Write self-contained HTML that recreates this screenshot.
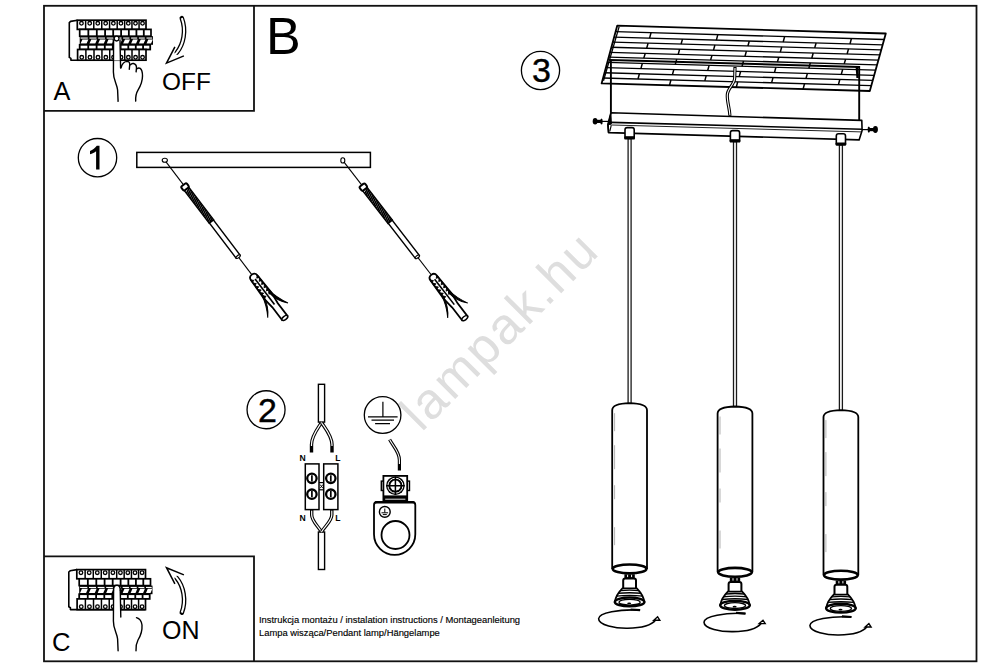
<!DOCTYPE html>
<html><head><meta charset="utf-8">
<style>
html,body{margin:0;padding:0;background:#fff;}
body{width:1000px;height:667px;overflow:hidden;}
svg{display:block;}
text{font-family:"Liberation Sans",sans-serif;}
</style></head><body>
<svg width="1000" height="667" viewBox="0 0 1000 667">
<rect x="0" y="0" width="1000" height="667" fill="#fff"/>

<text x="0" y="0" transform="translate(421.5,432.8) rotate(-45)" font-size="51" letter-spacing="2.2" fill="#dedede">lampak.hu</text>
<g fill="none" stroke="#111" stroke-width="1.8">
<rect x="44" y="5.8" width="932.5" height="655.5"/>
<polyline points="44,110.8 254,110.8 254,5.8"/>
<polyline points="44,556.45 254,556.45 254,661.3"/>
</g>
<text x="266" y="54" font-size="52">B</text>
<text x="53.4" y="99.9" font-size="25.3">A</text>
<text x="162.1" y="89.5" font-size="24.4">OFF</text>
<text x="52" y="650.5" font-size="25.6">C</text>
<text x="162" y="638.9" font-size="25">ON</text>
<g fill="none" stroke="#000" stroke-width="1.3">
<circle cx="97.5" cy="157.7" r="19.2"/>
<circle cx="266.05" cy="409.75" r="19"/>
<circle cx="540.5" cy="70.5" r="19.1"/>
</g>
<path d="M99.5,145.8 L99.5,169.5 L96.1,169.5 L96.1,151.2 C94.5,152.6 92.3,153.7 90,154.2 L90,151 C92.8,150 95.2,148 96.8,145.8 Z" fill="#000"/>
<text x="258" y="421.7" font-size="34" stroke="#000" stroke-width="0.4">2</text>
<text x="532" y="82" font-size="34" stroke="#000" stroke-width="0.4">3</text>
<text x="259" y="622.5" font-size="9.4" stroke="#000" stroke-width="0.15">Instrukcja montażu / instalation instructions / Montageanleitung</text>
<text x="259" y="635.8" font-size="9.4" stroke="#000" stroke-width="0.15">Lampa wisząca/Pendant lamp/Hängelampe</text>
<g transform="translate(0,0)" fill="none" stroke="#000">
<path d="M77.5,20.2 L70.6,21.4 L69.3,22.6 L69.3,57.4 L70.9,58.4 L70.9,60.2 L146,60.2" stroke-width="1.6" stroke-linejoin="round"/>
<rect x="77.3" y="20.2" width="68.7" height="9.2" stroke-width="1.7" fill="#fff"/>
<line x1="85.63" y1="20.2" x2="85.63" y2="29.4" stroke-width="1.5"/>
<line x1="93.78" y1="20.2" x2="93.78" y2="29.4" stroke-width="1.5"/>
<line x1="101.76" y1="20.2" x2="101.76" y2="29.4" stroke-width="1.5"/>
<line x1="109.57" y1="20.2" x2="109.57" y2="29.4" stroke-width="1.5"/>
<line x1="117.20" y1="20.2" x2="117.20" y2="29.4" stroke-width="1.5"/>
<line x1="124.66" y1="20.2" x2="124.66" y2="29.4" stroke-width="1.5"/>
<line x1="131.95" y1="20.2" x2="131.95" y2="29.4" stroke-width="1.5"/>
<line x1="139.06" y1="20.2" x2="139.06" y2="29.4" stroke-width="1.5"/>
<circle cx="81.46" cy="23.3" r="1.8" stroke-width="1.3"/>
<circle cx="89.70" cy="23.3" r="1.8" stroke-width="1.3"/>
<circle cx="97.77" cy="23.3" r="1.8" stroke-width="1.3"/>
<circle cx="105.66" cy="23.3" r="1.8" stroke-width="1.3"/>
<circle cx="113.38" cy="23.3" r="1.8" stroke-width="1.3"/>
<circle cx="120.93" cy="23.3" r="1.8" stroke-width="1.3"/>
<circle cx="128.30" cy="23.3" r="1.8" stroke-width="1.3"/>
<circle cx="135.50" cy="23.3" r="1.8" stroke-width="1.3"/>
<circle cx="142.53" cy="23.3" r="1.8" stroke-width="1.3"/>
<rect x="79.7" y="29.4" width="71.3" height="6.800000000000004" stroke-width="1.7" fill="#fff"/>
<line x1="88.34" y1="29.4" x2="88.34" y2="36.2" stroke-width="1.8"/>
<line x1="96.80" y1="29.4" x2="96.80" y2="36.2" stroke-width="1.8"/>
<line x1="105.09" y1="29.4" x2="105.09" y2="36.2" stroke-width="1.8"/>
<line x1="113.19" y1="29.4" x2="113.19" y2="36.2" stroke-width="1.8"/>
<line x1="121.11" y1="29.4" x2="121.11" y2="36.2" stroke-width="1.8"/>
<line x1="128.85" y1="29.4" x2="128.85" y2="36.2" stroke-width="1.8"/>
<line x1="136.42" y1="29.4" x2="136.42" y2="36.2" stroke-width="1.8"/>
<line x1="143.80" y1="29.4" x2="143.80" y2="36.2" stroke-width="1.8"/>
<rect x="79.7" y="36.2" width="73.3" height="8.599999999999994" stroke-width="0" fill="#000"/>
<rect x="80.60" y="37.5" width="7.18" height="1.1" fill="#fff" stroke="none"/>
<path d="M82.40,39.400000000000006 L88.38,39.400000000000006 L86.58,43.5 L80.60,43.5 Z" fill="#fff" stroke="none"/>
<rect x="89.48" y="37.5" width="7.00" height="1.1" fill="#fff" stroke="none"/>
<path d="M91.28,39.400000000000006 L97.08,39.400000000000006 L95.28,43.5 L89.48,43.5 Z" fill="#fff" stroke="none"/>
<rect x="98.18" y="37.5" width="6.81" height="1.1" fill="#fff" stroke="none"/>
<path d="M99.98,39.400000000000006 L105.60,39.400000000000006 L103.80,43.5 L98.18,43.5 Z" fill="#fff" stroke="none"/>
<rect x="106.70" y="37.5" width="6.63" height="1.1" fill="#fff" stroke="none"/>
<path d="M108.50,39.400000000000006 L113.93,39.400000000000006 L112.13,43.5 L106.70,43.5 Z" fill="#fff" stroke="none"/>
<rect x="115.03" y="37.5" width="6.44" height="1.1" fill="#fff" stroke="none"/>
<path d="M116.83,39.400000000000006 L122.07,39.400000000000006 L120.27,43.5 L115.03,43.5 Z" fill="#fff" stroke="none"/>
<rect x="123.17" y="37.5" width="6.26" height="1.1" fill="#fff" stroke="none"/>
<path d="M124.97,39.400000000000006 L130.03,39.400000000000006 L128.23,43.5 L123.17,43.5 Z" fill="#fff" stroke="none"/>
<rect x="131.13" y="37.5" width="6.07" height="1.1" fill="#fff" stroke="none"/>
<path d="M132.93,39.400000000000006 L137.81,39.400000000000006 L136.01,43.5 L131.13,43.5 Z" fill="#fff" stroke="none"/>
<rect x="138.91" y="37.5" width="5.89" height="1.1" fill="#fff" stroke="none"/>
<path d="M140.71,39.400000000000006 L145.40,39.400000000000006 L143.60,43.5 L138.91,43.5 Z" fill="#fff" stroke="none"/>
<rect x="146.50" y="37.5" width="5.70" height="1.1" fill="#fff" stroke="none"/>
<path d="M148.30,39.400000000000006 L152.80,39.400000000000006 L151.00,43.5 L146.50,43.5 Z" fill="#fff" stroke="none"/>
<rect x="79.7" y="44.8" width="70.49999999999999" height="4.700000000000003" stroke-width="1.8" fill="#fff"/>
<line x1="88.25" y1="44.8" x2="88.25" y2="49.5" stroke-width="1.8"/>
<line x1="96.61" y1="44.8" x2="96.61" y2="49.5" stroke-width="1.8"/>
<line x1="104.80" y1="44.8" x2="104.80" y2="49.5" stroke-width="1.8"/>
<line x1="112.81" y1="44.8" x2="112.81" y2="49.5" stroke-width="1.8"/>
<line x1="120.65" y1="44.8" x2="120.65" y2="49.5" stroke-width="1.8"/>
<line x1="128.30" y1="44.8" x2="128.30" y2="49.5" stroke-width="1.8"/>
<line x1="135.78" y1="44.8" x2="135.78" y2="49.5" stroke-width="1.8"/>
<line x1="143.08" y1="44.8" x2="143.08" y2="49.5" stroke-width="1.8"/>
<rect x="77.6" y="49.5" width="68.4" height="10.700000000000003" stroke-width="1.7" fill="#fff"/>
<line x1="85.89" y1="49.5" x2="85.89" y2="60.2" stroke-width="1.5"/>
<line x1="94.01" y1="49.5" x2="94.01" y2="60.2" stroke-width="1.5"/>
<line x1="101.95" y1="49.5" x2="101.95" y2="60.2" stroke-width="1.5"/>
<line x1="109.73" y1="49.5" x2="109.73" y2="60.2" stroke-width="1.5"/>
<line x1="117.33" y1="49.5" x2="117.33" y2="60.2" stroke-width="1.5"/>
<line x1="124.75" y1="49.5" x2="124.75" y2="60.2" stroke-width="1.5"/>
<line x1="132.01" y1="49.5" x2="132.01" y2="60.2" stroke-width="1.5"/>
<line x1="139.09" y1="49.5" x2="139.09" y2="60.2" stroke-width="1.5"/>
<circle cx="81.75" cy="57.3" r="1.8" stroke-width="1.3"/>
<circle cx="89.95" cy="57.3" r="1.8" stroke-width="1.3"/>
<circle cx="97.98" cy="57.3" r="1.8" stroke-width="1.3"/>
<circle cx="105.84" cy="57.3" r="1.8" stroke-width="1.3"/>
<circle cx="113.53" cy="57.3" r="1.8" stroke-width="1.3"/>
<circle cx="121.04" cy="57.3" r="1.8" stroke-width="1.3"/>
<circle cx="128.38" cy="57.3" r="1.8" stroke-width="1.3"/>
<circle cx="135.55" cy="57.3" r="1.8" stroke-width="1.3"/>
<circle cx="142.55" cy="57.3" r="1.8" stroke-width="1.3"/>
</g>
<g fill="none" stroke="#000" stroke-width="1.4" stroke-linecap="round">
<path d="M113.4,39.5 L113.4,47" />
<rect x="113.6" y="38.5" width="6.6" height="22" fill="#fff" stroke="none"/>
<path d="M113.6,40 L113.4,72 C113.2,80 117,84 117.6,90 L118.1,101.4"/>
<path d="M120,40.5 L120.6,68.1"/>
<path d="M121.1,67.7 C122,64 124,61.4 127.5,61.4 C129.5,61.6 130,63.5 129.6,66 L129.3,69.2"/>
<path d="M130.5,64.7 C131.5,63.4 132.5,63.3 133.5,63.5 C135.5,64 136.6,65.5 136.5,68 L136.1,71.9"/>
<path d="M137.2,68.6 C138.2,67.8 139.3,67.8 140.2,68.4 C141.8,69.6 142.5,72 142.5,76 C142.5,82 140.5,86 138,90.2 C136,93.5 135.4,96 135.7,101.1"/>
<circle cx="116.6" cy="38.6" r="2.4" fill="#fff" stroke-width="1.3"/>
</g>
<g fill="none" stroke="#000" stroke-linecap="round">
<path d="M176.8,52.6 C183.5,44.5 186.5,30.5 181.8,18.2" stroke-width="4.6"/>
<path d="M174.9,54.9 L176.8,52.6 C183.5,44.5 186.5,30.5 181.8,18.2" stroke-width="2" stroke="#fff" stroke-linecap="butt"/>
<polyline points="183.9,55.9 166.5,63.1 174.9,46.9" stroke-width="1.5" stroke-linecap="butt" stroke-linejoin="miter"/>
</g>
<g transform="translate(-0.5,549.4)" fill="none" stroke="#000">
<path d="M77.5,20.2 L70.6,21.4 L69.3,22.6 L69.3,57.4 L70.9,58.4 L70.9,60.2 L146,60.2" stroke-width="1.6" stroke-linejoin="round"/>
<rect x="77.3" y="20.2" width="68.7" height="9.2" stroke-width="1.7" fill="#fff"/>
<line x1="85.63" y1="20.2" x2="85.63" y2="29.4" stroke-width="1.5"/>
<line x1="93.78" y1="20.2" x2="93.78" y2="29.4" stroke-width="1.5"/>
<line x1="101.76" y1="20.2" x2="101.76" y2="29.4" stroke-width="1.5"/>
<line x1="109.57" y1="20.2" x2="109.57" y2="29.4" stroke-width="1.5"/>
<line x1="117.20" y1="20.2" x2="117.20" y2="29.4" stroke-width="1.5"/>
<line x1="124.66" y1="20.2" x2="124.66" y2="29.4" stroke-width="1.5"/>
<line x1="131.95" y1="20.2" x2="131.95" y2="29.4" stroke-width="1.5"/>
<line x1="139.06" y1="20.2" x2="139.06" y2="29.4" stroke-width="1.5"/>
<circle cx="81.46" cy="23.3" r="1.8" stroke-width="1.3"/>
<circle cx="89.70" cy="23.3" r="1.8" stroke-width="1.3"/>
<circle cx="97.77" cy="23.3" r="1.8" stroke-width="1.3"/>
<circle cx="105.66" cy="23.3" r="1.8" stroke-width="1.3"/>
<circle cx="113.38" cy="23.3" r="1.8" stroke-width="1.3"/>
<circle cx="120.93" cy="23.3" r="1.8" stroke-width="1.3"/>
<circle cx="128.30" cy="23.3" r="1.8" stroke-width="1.3"/>
<circle cx="135.50" cy="23.3" r="1.8" stroke-width="1.3"/>
<circle cx="142.53" cy="23.3" r="1.8" stroke-width="1.3"/>
<rect x="79.7" y="29.4" width="71.3" height="6.800000000000004" stroke-width="1.7" fill="#fff"/>
<line x1="88.34" y1="29.4" x2="88.34" y2="36.2" stroke-width="1.8"/>
<line x1="96.80" y1="29.4" x2="96.80" y2="36.2" stroke-width="1.8"/>
<line x1="105.09" y1="29.4" x2="105.09" y2="36.2" stroke-width="1.8"/>
<line x1="113.19" y1="29.4" x2="113.19" y2="36.2" stroke-width="1.8"/>
<line x1="121.11" y1="29.4" x2="121.11" y2="36.2" stroke-width="1.8"/>
<line x1="128.85" y1="29.4" x2="128.85" y2="36.2" stroke-width="1.8"/>
<line x1="136.42" y1="29.4" x2="136.42" y2="36.2" stroke-width="1.8"/>
<line x1="143.80" y1="29.4" x2="143.80" y2="36.2" stroke-width="1.8"/>
<rect x="79.7" y="36.2" width="73.3" height="8.599999999999994" stroke-width="0" fill="#000"/>
<rect x="80.60" y="37.5" width="7.18" height="1.1" fill="#fff" stroke="none"/>
<path d="M82.40,39.400000000000006 L88.38,39.400000000000006 L86.58,43.5 L80.60,43.5 Z" fill="#fff" stroke="none"/>
<rect x="89.48" y="37.5" width="7.00" height="1.1" fill="#fff" stroke="none"/>
<path d="M91.28,39.400000000000006 L97.08,39.400000000000006 L95.28,43.5 L89.48,43.5 Z" fill="#fff" stroke="none"/>
<rect x="98.18" y="37.5" width="6.81" height="1.1" fill="#fff" stroke="none"/>
<path d="M99.98,39.400000000000006 L105.60,39.400000000000006 L103.80,43.5 L98.18,43.5 Z" fill="#fff" stroke="none"/>
<rect x="106.70" y="37.5" width="6.63" height="1.1" fill="#fff" stroke="none"/>
<path d="M108.50,39.400000000000006 L113.93,39.400000000000006 L112.13,43.5 L106.70,43.5 Z" fill="#fff" stroke="none"/>
<rect x="115.03" y="37.5" width="6.44" height="1.1" fill="#fff" stroke="none"/>
<path d="M116.83,39.400000000000006 L122.07,39.400000000000006 L120.27,43.5 L115.03,43.5 Z" fill="#fff" stroke="none"/>
<rect x="123.17" y="37.5" width="6.26" height="1.1" fill="#fff" stroke="none"/>
<path d="M124.97,39.400000000000006 L130.03,39.400000000000006 L128.23,43.5 L123.17,43.5 Z" fill="#fff" stroke="none"/>
<rect x="131.13" y="37.5" width="6.07" height="1.1" fill="#fff" stroke="none"/>
<path d="M132.93,39.400000000000006 L137.81,39.400000000000006 L136.01,43.5 L131.13,43.5 Z" fill="#fff" stroke="none"/>
<rect x="138.91" y="37.5" width="5.89" height="1.1" fill="#fff" stroke="none"/>
<path d="M140.71,39.400000000000006 L145.40,39.400000000000006 L143.60,43.5 L138.91,43.5 Z" fill="#fff" stroke="none"/>
<rect x="146.50" y="37.5" width="5.70" height="1.1" fill="#fff" stroke="none"/>
<path d="M148.30,39.400000000000006 L152.80,39.400000000000006 L151.00,43.5 L146.50,43.5 Z" fill="#fff" stroke="none"/>
<rect x="79.7" y="44.8" width="70.49999999999999" height="4.700000000000003" stroke-width="1.8" fill="#fff"/>
<line x1="88.25" y1="44.8" x2="88.25" y2="49.5" stroke-width="1.8"/>
<line x1="96.61" y1="44.8" x2="96.61" y2="49.5" stroke-width="1.8"/>
<line x1="104.80" y1="44.8" x2="104.80" y2="49.5" stroke-width="1.8"/>
<line x1="112.81" y1="44.8" x2="112.81" y2="49.5" stroke-width="1.8"/>
<line x1="120.65" y1="44.8" x2="120.65" y2="49.5" stroke-width="1.8"/>
<line x1="128.30" y1="44.8" x2="128.30" y2="49.5" stroke-width="1.8"/>
<line x1="135.78" y1="44.8" x2="135.78" y2="49.5" stroke-width="1.8"/>
<line x1="143.08" y1="44.8" x2="143.08" y2="49.5" stroke-width="1.8"/>
<rect x="77.6" y="49.5" width="68.4" height="10.700000000000003" stroke-width="1.7" fill="#fff"/>
<line x1="85.89" y1="49.5" x2="85.89" y2="60.2" stroke-width="1.5"/>
<line x1="94.01" y1="49.5" x2="94.01" y2="60.2" stroke-width="1.5"/>
<line x1="101.95" y1="49.5" x2="101.95" y2="60.2" stroke-width="1.5"/>
<line x1="109.73" y1="49.5" x2="109.73" y2="60.2" stroke-width="1.5"/>
<line x1="117.33" y1="49.5" x2="117.33" y2="60.2" stroke-width="1.5"/>
<line x1="124.75" y1="49.5" x2="124.75" y2="60.2" stroke-width="1.5"/>
<line x1="132.01" y1="49.5" x2="132.01" y2="60.2" stroke-width="1.5"/>
<line x1="139.09" y1="49.5" x2="139.09" y2="60.2" stroke-width="1.5"/>
<circle cx="81.75" cy="57.3" r="1.8" stroke-width="1.3"/>
<circle cx="89.95" cy="57.3" r="1.8" stroke-width="1.3"/>
<circle cx="97.98" cy="57.3" r="1.8" stroke-width="1.3"/>
<circle cx="105.84" cy="57.3" r="1.8" stroke-width="1.3"/>
<circle cx="113.53" cy="57.3" r="1.8" stroke-width="1.3"/>
<circle cx="121.04" cy="57.3" r="1.8" stroke-width="1.3"/>
<circle cx="128.38" cy="57.3" r="1.8" stroke-width="1.3"/>
<circle cx="135.55" cy="57.3" r="1.8" stroke-width="1.3"/>
<circle cx="142.55" cy="57.3" r="1.8" stroke-width="1.3"/>
</g>
<g fill="none" stroke="#000" stroke-width="1.4" stroke-linecap="round">
<rect x="113.6" y="588" width="6.6" height="24" fill="#fff" stroke="none"/>
<path d="M113.6,589 L113.4,621 C113.2,629 117,633 117.6,639 L118.1,650.8"/>
<path d="M120.2,589 L120.8,617"/>
<path d="M113.6,590 C113.6,586.5 115,585.3 116.9,585.3 C118.8,585.3 120.2,586.5 120.2,590" fill="#fff"/>
<path d="M136.5,617.6 C139.5,618.5 141.5,621 142,625 C142.4,631 140.5,636 138,640 C136.2,643.5 135.6,646 136,650.8"/>
</g>
<g fill="none" stroke="#000" stroke-linecap="round">
<path d="M176.8,578.2 C183.5,586.3 186.5,600.3 181.8,612.6" stroke-width="4.6"/>
<path d="M174.9,575.9 L176.8,578.2 C183.5,586.3 186.5,600.3 181.8,612.6" stroke-width="2" stroke="#fff" stroke-linecap="butt"/>
<polyline points="183.9,574.9 166.5,567.7 174.9,583.9" stroke-width="1.5" stroke-linecap="butt" stroke-linejoin="miter"/>
</g>
<rect x="136.8" y="152.4" width="233.6" height="15" fill="none" stroke="#000" stroke-width="1.5"/>
<ellipse cx="164.8" cy="160.3" rx="2.6" ry="2" fill="none" stroke="#000" stroke-width="1.1"/>
<ellipse cx="342.8" cy="160.4" rx="2" ry="2.6" fill="none" stroke="#000" stroke-width="1.1"/>
<g transform="translate(164.8,160.3) rotate(52.73) scale(1.0007,1)" fill="none" stroke="#000">
<line x1="2" y1="0" x2="146" y2="0" stroke-width="1.1"/>
<rect x="35" y="-2.8" width="42" height="5.6" fill="#fff" stroke-width="1.4"/>
<path d="M37.0,-2.6 L39.2,2.6 M39.1,-2.6 L41.3,2.6 M41.2,-2.6 L43.4,2.6 M43.3,-2.6 L45.5,2.6 M45.4,-2.6 L47.6,2.6 M47.5,-2.6 L49.7,2.6 M49.6,-2.6 L51.8,2.6 M51.7,-2.6 L53.9,2.6 M53.8,-2.6 L56.0,2.6 M55.9,-2.6 L58.1,2.6 M58.0,-2.6 L60.2,2.6 M60.1,-2.6 L62.3,2.6 M62.2,-2.6 L64.4,2.6 M64.3,-2.6 L66.5,2.6 M66.4,-2.6 L68.6,2.6 M68.5,-2.6 L70.7,2.6 M70.6,-2.6 L72.8,2.6 M72.7,-2.6 L74.9,2.6 M74.8,-2.6 L77.0,2.6 M76.9,-2.6 L79.1,2.6" stroke-width="1.7"/>
<rect x="30.8" y="-3.4" width="5.2" height="6.8" rx="1.5" fill="#fff" stroke-width="2"/>
<rect x="77" y="-2.5" width="44" height="5" fill="#fff" stroke-width="1.4"/>
<ellipse cx="121" cy="0" rx="1.2" ry="2.5" fill="#fff" stroke-width="1.2"/>
<path d="M147.5,-4 Q143.6,-4 143.6,0 Q143.6,4 147.5,4 L170,4.8 L182,3.4 L198,3.4 L198,-3.4 L182,-3.4 L170,-4.8 Z" fill="#fff" stroke-width="1.8"/>
<path d="M147.0,-4.2 L150.2,-4.4 L149.4,-1.8 Z M147.0,4.2 L150.2,4.4 L149.4,1.8 Z M151.0,-4.2 L154.2,-4.4 L153.4,-1.8 Z M151.0,4.2 L154.2,4.4 L153.4,1.8 Z M155.0,-4.2 L158.2,-4.4 L157.4,-1.8 Z M155.0,4.2 L158.2,4.4 L157.4,1.8 Z M159.0,-4.2 L162.2,-4.4 L161.4,-1.8 Z M159.0,4.2 L162.2,4.4 L161.4,1.8 Z M163.0,-4.2 L166.2,-4.4 L165.4,-1.8 Z M163.0,4.2 L166.2,4.4 L165.4,1.8 Z M167.0,-4.2 L170.2,-4.4 L169.4,-1.8 Z M167.0,4.2 L170.2,4.4 L169.4,1.8 Z" fill="#000" stroke-width="0.8"/>
<line x1="149" y1="0" x2="181" y2="0" stroke-width="1.6"/>
<path d="M166,-4.4 C174,-5.2 182,-8.5 188,-11.6 C183,-7 176,-3.6 168,-2.8 Z" fill="#000" stroke-width="1"/>
<path d="M166,4.4 C174,5.8 182,9.8 187.5,13.4 C182.5,8.6 176,5.2 168,3.4 Z" fill="#000" stroke-width="1"/>
<ellipse cx="198" cy="0" rx="1.8" ry="3.4" fill="#fff" stroke-width="1.5"/>
</g>
<g transform="translate(342.8,160.5) rotate(52.27) scale(1.0068,1)" fill="none" stroke="#000">
<line x1="2" y1="0" x2="146" y2="0" stroke-width="1.1"/>
<rect x="35" y="-2.8" width="42" height="5.6" fill="#fff" stroke-width="1.4"/>
<path d="M37.0,-2.6 L39.2,2.6 M39.1,-2.6 L41.3,2.6 M41.2,-2.6 L43.4,2.6 M43.3,-2.6 L45.5,2.6 M45.4,-2.6 L47.6,2.6 M47.5,-2.6 L49.7,2.6 M49.6,-2.6 L51.8,2.6 M51.7,-2.6 L53.9,2.6 M53.8,-2.6 L56.0,2.6 M55.9,-2.6 L58.1,2.6 M58.0,-2.6 L60.2,2.6 M60.1,-2.6 L62.3,2.6 M62.2,-2.6 L64.4,2.6 M64.3,-2.6 L66.5,2.6 M66.4,-2.6 L68.6,2.6 M68.5,-2.6 L70.7,2.6 M70.6,-2.6 L72.8,2.6 M72.7,-2.6 L74.9,2.6 M74.8,-2.6 L77.0,2.6 M76.9,-2.6 L79.1,2.6" stroke-width="1.7"/>
<rect x="30.8" y="-3.4" width="5.2" height="6.8" rx="1.5" fill="#fff" stroke-width="2"/>
<rect x="77" y="-2.5" width="44" height="5" fill="#fff" stroke-width="1.4"/>
<ellipse cx="121" cy="0" rx="1.2" ry="2.5" fill="#fff" stroke-width="1.2"/>
<path d="M147.5,-4 Q143.6,-4 143.6,0 Q143.6,4 147.5,4 L170,4.8 L182,3.4 L198,3.4 L198,-3.4 L182,-3.4 L170,-4.8 Z" fill="#fff" stroke-width="1.8"/>
<path d="M147.0,-4.2 L150.2,-4.4 L149.4,-1.8 Z M147.0,4.2 L150.2,4.4 L149.4,1.8 Z M151.0,-4.2 L154.2,-4.4 L153.4,-1.8 Z M151.0,4.2 L154.2,4.4 L153.4,1.8 Z M155.0,-4.2 L158.2,-4.4 L157.4,-1.8 Z M155.0,4.2 L158.2,4.4 L157.4,1.8 Z M159.0,-4.2 L162.2,-4.4 L161.4,-1.8 Z M159.0,4.2 L162.2,4.4 L161.4,1.8 Z M163.0,-4.2 L166.2,-4.4 L165.4,-1.8 Z M163.0,4.2 L166.2,4.4 L165.4,1.8 Z M167.0,-4.2 L170.2,-4.4 L169.4,-1.8 Z M167.0,4.2 L170.2,4.4 L169.4,1.8 Z" fill="#000" stroke-width="0.8"/>
<line x1="149" y1="0" x2="181" y2="0" stroke-width="1.6"/>
<path d="M166,-4.4 C174,-5.2 182,-8.5 188,-11.6 C183,-7 176,-3.6 168,-2.8 Z" fill="#000" stroke-width="1"/>
<path d="M166,4.4 C174,5.8 182,9.8 187.5,13.4 C182.5,8.6 176,5.2 168,3.4 Z" fill="#000" stroke-width="1"/>
<ellipse cx="198" cy="0" rx="1.8" ry="3.4" fill="#fff" stroke-width="1.5"/>
</g>
<g fill="none" stroke="#000">
<rect x="318.4" y="384.3" width="6.2" height="37.8" fill="#fff" stroke-width="1.4"/>
<rect x="318.4" y="532" width="6.2" height="37.5" fill="#fff" stroke-width="1.4"/>
<path d="M321.5,422.5 C318,428 311.5,436 311.5,444.5 L311.5,452.5" stroke-width="3.4" stroke-linecap="butt"/>
<path d="M321.5,422.5 C318,428 311.5,436 311.5,444.5 L311.5,446" stroke-width="1.2" stroke="#fff" stroke-linecap="butt"/>
<path d="M321.5,422.5 C325,428 332,436 332,444.5 L332,452.5" stroke-width="3.4" stroke-linecap="butt"/>
<path d="M321.5,422.5 C325,428 332,436 332,444.5 L332,446" stroke-width="1.2" stroke="#fff" stroke-linecap="butt"/>
<path d="M311.7,509.5 L311.7,515 C311.7,521 318,526 321.5,532" stroke-width="3.4" stroke-linecap="butt"/>
<path d="M311.7,510.5 L311.7,515 C311.7,521 318,526 321.5,532" stroke-width="1.2" stroke="#fff" stroke-linecap="butt"/>
<path d="M331.8,509.5 L331.8,515 C331.8,521 325,526 321.5,532" stroke-width="3.4" stroke-linecap="butt"/>
<path d="M331.8,510.5 L331.8,515 C331.8,521 325,526 321.5,532" stroke-width="1.2" stroke="#fff" stroke-linecap="butt"/>
<rect x="305.3" y="463.9" width="13.7" height="45.7" fill="#fff" stroke-width="1.5"/>
<rect x="323.7" y="463.9" width="14.2" height="45.7" fill="#fff" stroke-width="1.5"/>
<line x1="319" y1="482.6" x2="323.7" y2="482.6" stroke-width="1.2"/>
<line x1="319" y1="489.8" x2="323.7" y2="489.8" stroke-width="1.2"/>
<path d="M320,484.5 L323,488.3 M323,484.5 L320,488.3" stroke-width="0.9"/>
<circle cx="311.9" cy="478.3" r="4.7" stroke-width="2.3"/>
<circle cx="311.9" cy="494.2" r="4.7" stroke-width="2.3"/>
<circle cx="330.8" cy="478.3" r="4.7" stroke-width="2.3"/>
<circle cx="330.8" cy="494.2" r="4.7" stroke-width="2.3"/>
<path d="M311.9,475.2 L311.9,481.4 M311.9,491.1 L311.9,497.3 M330.8,475.2 L330.8,481.4 M330.8,491.1 L330.8,497.3" stroke-width="1.7"/>
</g>
<g font-family="Liberation Sans" font-weight="bold" font-size="8.6" fill="#000">
<text x="299.4" y="461.2">N</text><text x="335.3" y="461.2">L</text>
<text x="299.4" y="520.6">N</text><text x="335.3" y="520.6">L</text>
</g>
<g fill="none" stroke="#000">
<circle cx="382.6" cy="415" r="18.3" stroke-width="1.3"/>
<path d="M382.9,401.8 L382.9,416.6 M368,416.8 L397.6,416.8 M371.5,420.1 L394,420.1 M375.1,423.7 L390,423.7" stroke-width="1.2"/>
<path d="M389.6,439.6 C393,446 399.5,452 399.4,460 L399.4,470.6" stroke-width="3.2" stroke-linecap="butt"/>
<path d="M389.6,439.6 C393,446 399.5,452 399.4,460 L399.4,464" stroke-width="1.1" stroke="#fff" stroke-linecap="butt"/>
<path d="M374,534.2 L374,505 Q374,502 377,502 L412.3,502 Q415.3,502 415.3,505 L415.3,534.2 A20.65,20.65 0 0 1 374,534.2 Z" fill="#fff" stroke-width="1.8"/>
<line x1="375" y1="502.4" x2="414.3" y2="502.4" stroke-width="2.2"/>
<rect x="381.3" y="481.1" width="28.2" height="9.4" fill="#fff" stroke-width="1.4"/>
<rect x="383.4" y="475.9" width="23.8" height="25.6" fill="#fff" stroke-width="1.8"/>
<rect x="383.4" y="495.4" width="23.8" height="6" fill="#000" stroke="none"/>
<line x1="385.2" y1="499.2" x2="405.4" y2="499.2" stroke="#fff" stroke-width="0.9"/>
<circle cx="395.4" cy="485.7" r="9.3" fill="#000" stroke="none"/>
<circle cx="395.4" cy="485.7" r="7.5" stroke="#fff" stroke-width="1"/>
<circle cx="395.4" cy="485.7" r="5.1" fill="#fff" stroke="none"/>
<path d="M395.4,476.4 L395.4,495 M386.1,485.7 L404.7,485.7" stroke-width="1.5"/>
<circle cx="384.8" cy="511.9" r="5.4" stroke-width="1.4"/>
<path d="M384.8,508.5 L384.8,512.6 M381.5,512.8 L388.1,512.8 M382.8,514.6 L386.8,514.6" stroke-width="1"/>
<circle cx="395.5" cy="535" r="14" stroke-width="1.8"/>
</g>
<g fill="none" stroke="#000" stroke-linecap="butt">
<path d="M617.2,25.7 L885.8,33.5 L869.8,91.0 L601.6,83.4 Z" fill="#fff" stroke-width="1.8" stroke-linejoin="round"/>
<line x1="615.58" y1="31.70" x2="884.14" y2="39.48" stroke-width="1.35"/>
<line x1="614.11" y1="37.12" x2="882.63" y2="44.88" stroke-width="1.35"/>
<line x1="612.77" y1="42.09" x2="881.26" y2="49.83" stroke-width="1.35"/>
<line x1="611.38" y1="47.22" x2="879.83" y2="54.95" stroke-width="1.35"/>
<line x1="609.98" y1="52.42" x2="878.39" y2="60.12" stroke-width="1.35"/>
<line x1="608.70" y1="57.15" x2="877.08" y2="64.84" stroke-width="1.35"/>
<line x1="607.26" y1="62.45" x2="875.61" y2="70.13" stroke-width="1.35"/>
<line x1="605.86" y1="67.65" x2="874.17" y2="75.30" stroke-width="1.35"/>
<line x1="604.47" y1="72.78" x2="872.74" y2="80.42" stroke-width="1.35"/>
<line x1="603.05" y1="78.03" x2="871.29" y2="85.65" stroke-width="1.35"/>
<line x1="619.10" y1="26.90" x2="603.50" y2="80.80" stroke-width="1.3"/>
<path d="M651.00,32.73 L649.60,38.15 M717.80,34.66 L716.40,40.08 M784.60,36.60 L783.20,42.01 M851.40,38.53 L850.00,43.94 M682.50,39.10 L681.10,44.06 M749.30,41.03 L747.90,45.98 M816.10,42.96 L814.70,47.91 M648.10,43.11 L646.70,48.24 M714.90,45.03 L713.50,50.16 M781.70,46.96 L780.30,52.08 M848.50,48.89 L847.10,54.01 M679.60,49.19 L678.20,54.37 M746.40,51.11 L745.00,56.29 M813.20,53.03 L811.80,58.21 M645.20,53.43 L643.80,58.15 M712.00,55.34 L710.60,60.07 M778.80,57.26 L777.40,61.98 M845.60,59.18 L844.20,63.90 M676.70,59.10 L675.30,64.40 M743.50,61.01 L742.10,66.31 M810.30,62.92 L808.90,68.22 M642.30,63.46 L640.90,68.65 M709.10,65.37 L707.70,70.55 M775.90,67.28 L774.50,72.46 M842.70,69.19 L841.30,74.36 M673.80,69.59 L672.40,74.72 M740.60,71.49 L739.20,76.62 M807.40,73.40 L806.00,78.52 M639.40,73.78 L638.00,79.03 M706.20,75.68 L704.80,80.92 M773.00,77.58 L771.60,82.82 M839.80,79.48 L838.40,84.72 M670.90,79.96 L669.50,85.32 M737.70,81.86 L736.30,87.22 M804.50,83.76 L803.10,89.11" stroke-width="1.5"/>
</g>
<g fill="none" stroke="#000">
<path d="M610.9,112.8 L610.9,60 L859.2,67 L859.2,120.2" stroke-width="1.9"/>
<path d="M856.8,66.8 L857.6,78" stroke-width="2.4"/>
<path d="M735,67 L734.7,78 C734.4,85 727.6,88 727.3,95 C727,102 729.6,108 729.9,115.8" stroke-width="3.2"/>
<path d="M735,68 L734.7,78 C734.4,85 727.6,88 727.3,95 C727,102 729.6,108 729.9,115" stroke-width="1.1" stroke="#fff"/>
</g>
<g fill="none" stroke="#000" stroke-linejoin="round">
<path d="M610.9,112.8 L861.8,120.4 L862.1,130.5 L859.1,139.9 L608.6,132.6 L607.9,124.4 Z" fill="#fff" stroke-width="1.6"/>
<line x1="611" y1="122.4" x2="862" y2="129.2" stroke-width="1.6"/>
<line x1="612" y1="125" x2="861" y2="131.9" stroke-width="1" stroke="#222"/>
<path d="M610.9,112.8 L611.4,124.2 L607.9,124.6 Z" fill="#000" stroke-width="1" stroke-linejoin="miter"/>
<line x1="607.9" y1="124.4" x2="608.6" y2="132.6" stroke-width="1.5"/>
<line x1="611.3" y1="125" x2="609.8" y2="131.4" stroke-width="1.1"/>
<line x1="600" y1="121.4" x2="609" y2="121.4" stroke-width="1.2"/>
<ellipse cx="595.1" cy="121.3" rx="2.4" ry="3.3" fill="#000" stroke="none"/>
<ellipse cx="601.5" cy="121.4" rx="1.2" ry="3" fill="#000" stroke="none"/>
<rect x="595" y="119.8" width="6.5" height="3.2" fill="#000" stroke="none"/>
<line x1="862" y1="129.6" x2="869" y2="129.6" stroke-width="1.2"/>
<ellipse cx="875.4" cy="129.5" rx="2.5" ry="3.4" fill="#000" stroke="none"/>
<ellipse cx="868.8" cy="129.6" rx="1.2" ry="3.1" fill="#000" stroke="none"/>
<rect x="868.8" y="128" width="6.5" height="3.2" fill="#000" stroke="none"/>
</g>
<g fill="none" stroke="#000">
<rect x="628.10" y="138.60" width="3.0" height="265.60" fill="#fff" stroke="#1a1a1a" stroke-width="1.3"/>
<path d="M625.00,137.60 L625.00,129.80 Q625.00,127.60 627.20,127.60 L632.00,127.60 Q634.20,127.60 634.20,129.80 L634.20,137.60 Z" fill="#fff" stroke-width="1.6"/>
<rect x="624.30" y="136.20" width="10.6" height="3.4" rx="1.2" fill="#000" stroke="none"/>
<path d="M612.20,568.90 L612.20,410.20 Q612.20,403.70 629.60,403.20 Q647.00,403.70 647.00,410.20 L647.00,568.90" fill="#fff" stroke-width="1.8"/>
<path d="M614.60,413.20 L614.60,548.90" stroke="#999" stroke-width="0.75" stroke-dasharray="18,14,24,16,14,28"/>
<ellipse cx="629.60" cy="568.90" rx="16.80" ry="4.4" fill="#fff" stroke-width="2.6"/>
<rect x="624.40" y="574.20" width="10.4" height="4.6" fill="#000" stroke="none"/>
<path d="M627.60,574.80 L627.60,577.20 M631.60,574.80 L631.60,577.20" stroke="#fff" stroke-width="1"/>
<path d="M623.20,588.50 L623.20,580.50 Q623.20,578.50 625.20,578.50 L634.00,578.50 Q636.00,578.50 636.00,580.50 L636.00,588.50" fill="#fff" stroke-width="2"/>
<path d="M622.40,588.30 C619.80,590.90 615.80,595.50 614.90,601.70 L644.30,601.70 C643.40,595.50 639.40,590.90 636.80,588.30 Z" fill="#fff" stroke-width="1.8"/>
<path d="M620.40,590.60 Q629.60,589.60 638.80,590.60 M618.00,593.30 Q629.60,592.10 641.20,593.30 M616.40,596.10 Q629.60,594.70 642.80,596.10" stroke-width="1.4"/>
<ellipse cx="629.60" cy="601.90" rx="14.8" ry="4.4" fill="#fff" stroke-width="2.4"/>
<ellipse cx="629.60" cy="602.20" rx="10.6" ry="2.9" fill="#fff" stroke-width="1.3"/>
<ellipse cx="629.20" cy="603.30" rx="2" ry="0.9" fill="#000" stroke="none"/>
<path d="M640.10,610.10 C619.60,609.00 598.60,612.80 598.60,618.80 C598.60,625.30 615.60,628.40 627.60,628.20 C642.60,628.00 651.60,625.30 655.60,620.00" stroke-width="1.6"/>
<path d="M630.60,609.50 L640.10,610.20" stroke-width="2.2"/>
<path d="M653.80,620.20 L657.60,616.80 L659.80,620.20 Z" fill="#fff" stroke-width="1.4" stroke-linejoin="miter"/>
</g>
<g fill="none" stroke="#000">
<rect x="733.50" y="141.60" width="3.0" height="265.90" fill="#fff" stroke="#1a1a1a" stroke-width="1.3"/>
<path d="M730.40,140.60 L730.40,132.80 Q730.40,130.60 732.60,130.60 L737.40,130.60 Q739.60,130.60 739.60,132.80 L739.60,140.60 Z" fill="#fff" stroke-width="1.6"/>
<rect x="729.70" y="139.20" width="10.6" height="3.4" rx="1.2" fill="#000" stroke="none"/>
<path d="M717.60,572.30 L717.60,413.50 Q717.60,407.00 735.00,406.50 Q752.40,407.00 752.40,413.50 L752.40,572.30" fill="#fff" stroke-width="1.8"/>
<path d="M720.00,416.50 L720.00,552.30" stroke="#999" stroke-width="0.75" stroke-dasharray="18,14,24,16,14,28"/>
<ellipse cx="735.00" cy="572.30" rx="16.80" ry="4.4" fill="#fff" stroke-width="2.6"/>
<rect x="729.80" y="577.60" width="10.4" height="4.6" fill="#000" stroke="none"/>
<path d="M733.00,578.20 L733.00,580.60 M737.00,578.20 L737.00,580.60" stroke="#fff" stroke-width="1"/>
<path d="M728.60,591.90 L728.60,583.90 Q728.60,581.90 730.60,581.90 L739.40,581.90 Q741.40,581.90 741.40,583.90 L741.40,591.90" fill="#fff" stroke-width="2"/>
<path d="M727.80,591.70 C725.20,594.30 721.20,598.90 720.30,605.10 L749.70,605.10 C748.80,598.90 744.80,594.30 742.20,591.70 Z" fill="#fff" stroke-width="1.8"/>
<path d="M725.80,594.00 Q735.00,593.00 744.20,594.00 M723.40,596.70 Q735.00,595.50 746.60,596.70 M721.80,599.50 Q735.00,598.10 748.20,599.50" stroke-width="1.4"/>
<ellipse cx="735.00" cy="605.30" rx="14.8" ry="4.4" fill="#fff" stroke-width="2.4"/>
<ellipse cx="735.00" cy="605.60" rx="10.6" ry="2.9" fill="#fff" stroke-width="1.3"/>
<ellipse cx="734.60" cy="606.70" rx="2" ry="0.9" fill="#000" stroke="none"/>
<path d="M745.50,613.50 C725.00,612.40 704.00,616.20 704.00,622.20 C704.00,628.70 721.00,631.80 733.00,631.60 C748.00,631.40 757.00,628.70 761.00,623.40" stroke-width="1.6"/>
<path d="M736.00,612.90 L745.50,613.60" stroke-width="2.2"/>
<path d="M759.20,623.60 L763.00,620.20 L765.20,623.60 Z" fill="#fff" stroke-width="1.4" stroke-linejoin="miter"/>
</g>
<g fill="none" stroke="#000">
<rect x="839.40" y="144.80" width="3.0" height="266.30" fill="#fff" stroke="#1a1a1a" stroke-width="1.3"/>
<path d="M836.30,143.80 L836.30,136.00 Q836.30,133.80 838.50,133.80 L843.30,133.80 Q845.50,133.80 845.50,136.00 L845.50,143.80 Z" fill="#fff" stroke-width="1.6"/>
<rect x="835.60" y="142.40" width="10.6" height="3.4" rx="1.2" fill="#000" stroke="none"/>
<path d="M823.50,575.20 L823.50,417.10 Q823.50,410.60 840.90,410.10 Q858.30,410.60 858.30,417.10 L858.30,575.20" fill="#fff" stroke-width="1.8"/>
<path d="M825.90,420.10 L825.90,555.20" stroke="#999" stroke-width="0.75" stroke-dasharray="18,14,24,16,14,28"/>
<ellipse cx="840.90" cy="575.20" rx="16.80" ry="4.4" fill="#fff" stroke-width="2.6"/>
<rect x="835.70" y="580.50" width="10.4" height="4.6" fill="#000" stroke="none"/>
<path d="M838.90,581.10 L838.90,583.50 M842.90,581.10 L842.90,583.50" stroke="#fff" stroke-width="1"/>
<path d="M834.50,594.80 L834.50,586.80 Q834.50,584.80 836.50,584.80 L845.30,584.80 Q847.30,584.80 847.30,586.80 L847.30,594.80" fill="#fff" stroke-width="2"/>
<path d="M833.70,594.60 C831.10,597.20 827.10,601.80 826.20,608.00 L855.60,608.00 C854.70,601.80 850.70,597.20 848.10,594.60 Z" fill="#fff" stroke-width="1.8"/>
<path d="M831.70,596.90 Q840.90,595.90 850.10,596.90 M829.30,599.60 Q840.90,598.40 852.50,599.60 M827.70,602.40 Q840.90,601.00 854.10,602.40" stroke-width="1.4"/>
<ellipse cx="840.90" cy="608.20" rx="14.8" ry="4.4" fill="#fff" stroke-width="2.4"/>
<ellipse cx="840.90" cy="608.50" rx="10.6" ry="2.9" fill="#fff" stroke-width="1.3"/>
<ellipse cx="840.50" cy="609.60" rx="2" ry="0.9" fill="#000" stroke="none"/>
<path d="M851.40,616.90 C830.90,615.80 809.90,619.60 809.90,625.60 C809.90,632.10 826.90,635.20 838.90,635.00 C853.90,634.80 862.90,632.10 866.90,626.80" stroke-width="1.6"/>
<path d="M841.90,616.30 L851.40,617.00" stroke-width="2.2"/>
<path d="M865.10,627.00 L868.90,623.60 L871.10,627.00 Z" fill="#fff" stroke-width="1.4" stroke-linejoin="miter"/>
</g>
</svg>
</body></html>
